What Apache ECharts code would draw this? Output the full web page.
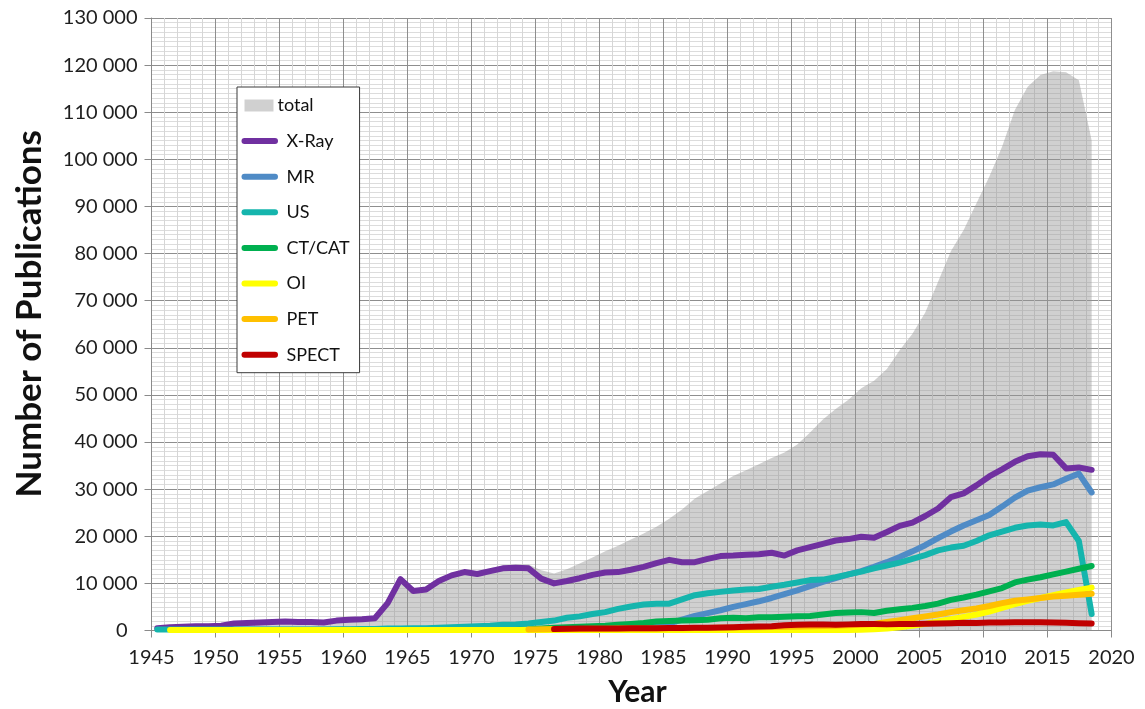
<!DOCTYPE html>
<html>
<head>
<meta charset="utf-8">
<script src="https://cdn.jsdelivr.net/npm/echarts@6/dist/echarts.min.js"></script>
<style>
  html, body { margin: 0; padding: 0; background: #fff; }
  #main { width: 1145px; height: 709px; }
</style>
</head>
<body>
<div id="main"></div>
<script>
// publications per year
const xTicks = [1945, 1950, 1955, 1960, 1965, 1970, 1975, 1980, 1985, 1990, 1995, 2000, 2005, 2010, 2015, 2020]

const totalStart = 1945
const total = [
  500, 900, 1000, 1100, 1100, 1200, 1700, 1800, 1900, 2000,
  2100, 2000, 2000, 1900, 2400, 2500, 2600, 2900, 6200, 11300,
  8900, 9200, 11000, 12200, 12900, 12600, 13200, 13800, 14000, 14000,
  12800, 12100, 13000, 14200, 15500, 16800, 18000, 19300, 20600, 22000,
  23700, 25700, 28000, 29600, 31200, 32800, 34000, 35300, 36600, 37800,
  39500, 42000, 44800, 47000, 49000, 51400, 53000, 55500, 59500, 63000,
  67500, 74000, 80500, 85000, 90700, 96300, 102700, 110500, 115400, 117900,
  118700, 118500, 116800, 104000
]

const xrayStart = 1945
const xray = [
  500, 700, 800, 900, 900, 1000, 1500, 1600, 1700, 1800,
  1900, 1800, 1800, 1700, 2100, 2300, 2400, 2600, 5800, 10900,
  8400, 8700, 10500, 11700, 12400, 12000, 12600, 13200, 13300, 13200,
  11000, 10000, 10500, 11100, 11800, 12300, 12400, 12900, 13500, 14300,
  15000, 14500, 14500, 15200, 15800, 15900, 16100, 16200, 16500, 15900,
  17000, 17700, 18400, 19100, 19400, 19900, 19700, 20900, 22200, 22900,
  24300, 25900, 28300, 29100, 30800, 32700, 34200, 35800, 37000, 37400,
  37300, 34400, 34600, 34100
]

const mrStart = 1982
const mr = [
  200, 500, 900, 1500, 2300, 3100, 3700, 4300, 5000, 5600,
  6200, 6900, 7700, 8500, 9400, 10300, 11100, 11900, 12600, 13500,
  14500, 15600, 16800, 18100, 19600, 21000, 22300, 23400, 24500, 26300,
  28200, 29700, 30400, 31000, 32200, 33300, 29300
]

const usStart = 1945
const us = [
  200, 200, 200, 200, 200, 200, 200, 200, 200, 200,
  200, 200, 200, 200, 250, 250, 300, 300, 400, 400,
  500, 500, 600, 700, 800, 900, 1000, 1200, 1300, 1500,
  1800, 2100, 2700, 3000, 3500, 3900, 4600, 5100, 5500, 5700,
  5700, 6600, 7500, 7900, 8200, 8500, 8700, 8800, 9300, 9700,
  10200, 10700, 10800, 11300, 11900, 12500, 13200, 13800, 14400, 15200,
  16000, 17000, 17600, 18000, 19000, 20200, 21000, 21800, 22300, 22500,
  22300, 23000, 19000, 3500
]

const ctStart = 1973
const ct = [
  100, 200, 400, 600, 700, 800, 900, 1000, 1200, 1400,
  1600, 1900, 2000, 2100, 2200, 2300, 2600, 2700, 2600, 2800,
  2800, 2900, 3000, 3100, 3400, 3700, 3800, 3900, 3700, 4200,
  4500, 4800, 5200, 5700, 6500, 7000, 7600, 8300, 9000, 10200,
  10800, 11300, 11900, 12500, 13100, 13700
]

const oiStart = 1946
const oi = [
  100, 100, 100, 100, 100, 100, 100, 100, 100, 100,
  100, 100, 100, 100, 100, 100, 100, 100, 100, 100,
  100, 100, 100, 100, 100, 100, 100, 100, 100, 100,
  100, 100, 100, 100, 100, 100, 100, 100, 100, 100,
  100, 100, 100, 100, 100, 100, 100, 100, 100, 100,
  100, 100, 100, 100, 150, 250, 400, 700, 1000, 1400,
  1900, 2400, 2900, 3400, 4000, 4800, 5600, 6300, 6900, 7500,
  8100, 8600, 9100
]

const petStart = 1974
const pet = [
  200, 250, 300, 300, 300, 350, 350, 400, 400, 450,
  450, 500, 500, 550, 550, 600, 600, 650, 700, 750,
  800, 850, 900, 950, 1000, 1100, 1200, 1400, 1800, 2200,
  2600, 3000, 3400, 3900, 4300, 4700, 5200, 5800, 6300, 6600,
  6900, 7200, 7400, 7600, 7800
]

const spectStart = 1976
const spect = [
  300, 350, 400, 400, 450, 450, 500, 500, 500, 550,
  550, 600, 600, 650, 700, 800, 850, 900, 1100, 1200,
  1250, 1300, 1200, 1300, 1400, 1400, 1300, 1400, 1400, 1450,
  1500, 1550, 1650, 1600, 1700, 1700, 1750, 1750, 1750, 1700,
  1650, 1550, 1500
]

// the points sit in the middle of their year on the axis
const yearShift = 0.45
const toPoints = (start, values) => values.map((v, i) => [start + i + yearShift, v])

const font = 'Lato, Carlito, "Open Sans", sans-serif'
const fmtThousands = (v) => (v === 0 ? '0\u2002' : String(v).replace(/\B(?=(\d{3})+(?!\d))/g, ' '))

const lineIcon = 'path://M0,0 M40,13 M3,3.5 L33.5,3.5 A3,3 0 0 1 33.5,9.5 L3,9.5 A3,3 0 0 1 3,3.5 Z'
const rectIcon = 'path://M0,0 M40,13 M3,0.5 L32,0.5 L32,12.5 L3,12.5 Z'

const lineSeries = (name, start, values, color) => ({
  name,
  type: 'line',
  data: toPoints(start, values),
  symbol: 'none',
  itemStyle: { color },
  lineStyle: { width: 6, color, cap: 'round', join: 'round' },
  z: 3,
})

const chart = echarts.init(document.getElementById('main'), null, { renderer: 'canvas' })

chart.setOption({
  animation: false,
  backgroundColor: '#fff',
  grid: {
    left: 151.5,
    right: 33.5,
    top: 18,
    bottom: 78.5,
    containLabel: false,
    outerBoundsMode: 'none',
  },
  legend: {
    orient: 'vertical',
    left: 237,
    top: 87,
    padding: [9.5, 10, 9, 4.5],
    itemGap: 17.6,
    itemWidth: 40,
    itemHeight: 13,
    backgroundColor: '#fff',
    borderColor: '#3a3a3a',
    borderWidth: 1,
    borderRadius: 0,
    selectedMode: false,
    symbolKeepAspect: false,
    textStyle: { fontFamily: font, fontSize: 18, lineHeight: 18, color: '#111' },
    data: [
      { name: 'total', icon: rectIcon, textStyle: { padding: [0, 0, 0, -9] } },
      { name: 'X-Ray', icon: lineIcon },
      { name: 'MR', icon: lineIcon },
      { name: 'US', icon: lineIcon },
      { name: 'CT/CAT', icon: lineIcon },
      { name: 'OI', icon: lineIcon },
      { name: 'PET', icon: lineIcon },
      { name: 'SPECT', icon: lineIcon },
    ],
  },
  xAxis: {
    type: 'value',
    min: xTicks[0],
    max: xTicks[xTicks.length - 1],
    interval: 5,
    name: 'Year',
    nameLocation: 'middle',
    nameGap: 47,
    nameMoveOverlap: false,
    nameTextStyle: { fontFamily: font, fontWeight: 'bold', fontSize: 30, color: '#111', padding: [0, 0, 0, 12] },
    axisLine: { show: true, onZero: false, lineStyle: { color: '#8a8a8a', width: 1 } },
    axisTick: { show: true, length: 7, lineStyle: { color: '#8a8a8a' } },
    axisLabel: { fontFamily: font, fontSize: 20, color: '#1e1e1e', margin: 17, formatter: (v) => String(v) },
    splitLine: { show: true, lineStyle: { color: '#8e8e8e', width: 1 } },
    minorTick: { show: false, splitNumber: 5 },
    minorSplitLine: { show: true, lineStyle: { color: '#d6d6d6', width: 1 } },
  },
  yAxis: {
    type: 'value',
    min: 0,
    max: 130000,
    interval: 10000,
    name: 'Number of Publications',
    nameLocation: 'middle',
    nameGap: 104,
    nameMoveOverlap: false,
    nameTextStyle: { fontFamily: font, fontWeight: 'bold', fontSize: 35, color: '#111', padding: [0, 0, 0, 21] },
    axisLine: { show: true, lineStyle: { color: '#8a8a8a', width: 1 } },
    axisTick: { show: true, length: 7, lineStyle: { color: '#8a8a8a' } },
    axisLabel: { fontFamily: font, fontSize: 20, color: '#1e1e1e', margin: 14, formatter: fmtThousands },
    splitLine: { show: true, lineStyle: { color: '#8e8e8e', width: 1 } },
    minorTick: { show: false, splitNumber: 10 },
    minorSplitLine: { show: true, lineStyle: { color: '#dcdcdc', width: 1 } },
  },
  series: [
    {
      name: 'total',
      type: 'line',
      data: toPoints(totalStart, total),
      symbol: 'none',
      itemStyle: { color: '#d0d0d0' },
      lineStyle: { width: 0 },
      areaStyle: { color: 'rgba(150,150,150,0.45)', opacity: 1 },
      z: 2,
    },
    lineSeries('X-Ray', xrayStart, xray, '#7030a0'),
    lineSeries('MR', mrStart, mr, '#4f8bc6'),
    lineSeries('US', usStart, us, '#15b5ad'),
    lineSeries('CT/CAT', ctStart, ct, '#00b050'),
    lineSeries('OI', oiStart, oi, '#ffff00'),
    lineSeries('PET', petStart, pet, '#ffc000'),
    lineSeries('SPECT', spectStart, spect, '#c00000'),
  ],
})
</script>
</body>
</html>
